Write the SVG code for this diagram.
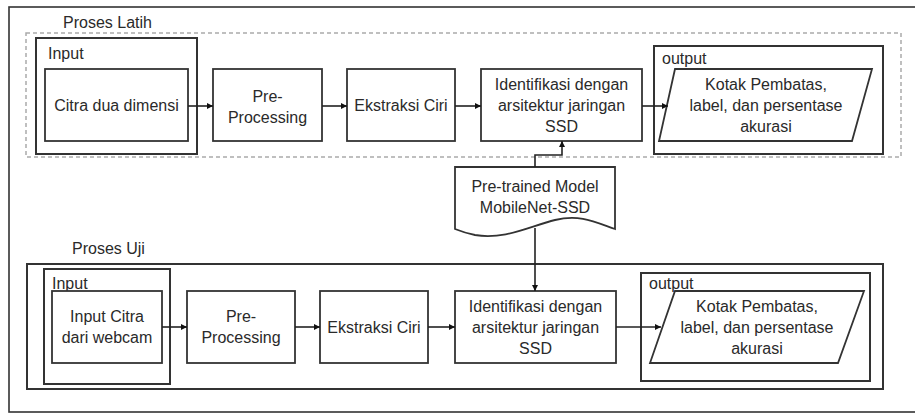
<svg xmlns="http://www.w3.org/2000/svg" width="915" height="413" viewBox="0 0 915 413">
<style>
.frame{fill:#fff;stroke:#333;stroke-width:1.6}
.box{fill:#fff;stroke:#333;stroke-width:1.8}
.grp{fill:none;stroke:#333;stroke-width:2}
.dash{fill:none;stroke:#aaa;stroke-width:1.5;stroke-dasharray:4 3}
.t{font-family:"Liberation Sans",Arial,sans-serif;font-size:16px;fill:#2a2a2a;text-anchor:middle}
.lbl{font-family:"Liberation Sans",Arial,sans-serif;font-size:16px;fill:#2a2a2a}
.c{fill:none;stroke:#222;stroke-width:1.6}
</style>
<defs>
<marker id="ah" viewBox="0 0 8 8" refX="8" refY="4" markerWidth="6" markerHeight="6" markerUnits="userSpaceOnUse" orient="auto"><path d="M0,0 L8,4 L0,8 Z" fill="#111"/></marker>
</defs>
<rect class="frame" x="9" y="7" width="912" height="405"/>

<g id="latih">
<text class="lbl" x="63" y="28">Proses Latih</text>
<rect class="dash" x="26" y="33" width="875" height="124"/>
</g>
<g id="latih-input">
<rect class="grp" x="36" y="38" width="161" height="116"/>
<text class="lbl" x="48" y="59">Input</text>
</g>
<g id="latih-citra">
<rect class="box" x="45" y="69" width="143" height="72"/>
<text class="t" x="116.5" y="111">Citra dua dimensi</text>
</g>
<g id="latih-pre">
<rect class="box" x="213" y="69" width="109" height="72"/>
<text class="t" x="267.5" y="102">Pre-</text>
<text class="t" x="267.5" y="123">Processing</text>
</g>
<g id="latih-ekstraksi">
<rect class="box" x="347" y="69" width="108" height="72"/>
<text class="t" x="401" y="111">Ekstraksi Ciri</text>
</g>
<g id="latih-identifikasi">
<rect class="box" x="481" y="69" width="161" height="72"/>
<text class="t" x="561.5" y="90">Identifikasi dengan</text>
<text class="t" x="561.5" y="111">arsitektur jaringan</text>
<text class="t" x="561.5" y="132">SSD</text>
</g>
<g id="latih-output">
<rect class="grp" x="654" y="46" width="229" height="108"/>
<text class="lbl" x="662" y="64">output</text>
<polygon class="box" points="675,69 872,69 852,141 659,141"/>
<text class="t" x="766" y="90">Kotak Pembatas,</text>
<text class="t" x="766" y="111">label, dan persentase</text>
<text class="t" x="766" y="132">akurasi</text>
</g>

<g id="model">
<path class="box" d="M455,167 L615,167 L615,229 C595,222 580,214 555,220 C530,226 505,240 475,235 C465,233 460,231 455,229 Z"/>
<text class="t" x="535" y="192">Pre-trained Model</text>
<text class="t" x="535" y="213">MobileNet-SSD</text>
</g>

<g id="uji">
<text class="lbl" x="72" y="254">Proses Uji</text>
<rect class="grp" x="27" y="264" width="856" height="125"/>
</g>
<g id="uji-input">
<rect class="grp" x="44" y="269" width="126" height="115"/>
<text class="lbl" x="52" y="289">Input</text>
</g>
<g id="uji-citra">
<rect class="box" x="52" y="291" width="110" height="72"/>
<text class="t" x="107" y="322">Input Citra</text>
<text class="t" x="107" y="343">dari webcam</text>
</g>
<g id="uji-pre">
<rect class="box" x="187" y="291" width="108" height="72"/>
<text class="t" x="241" y="322">Pre-</text>
<text class="t" x="241" y="343">Processing</text>
</g>
<g id="uji-ekstraksi">
<rect class="box" x="320" y="291" width="108" height="72"/>
<text class="t" x="374" y="333">Ekstraksi Ciri</text>
</g>
<g id="uji-identifikasi">
<rect class="box" x="455" y="291" width="161" height="72"/>
<text class="t" x="535.5" y="312">Identifikasi dengan</text>
<text class="t" x="535.5" y="333">arsitektur jaringan</text>
<text class="t" x="535.5" y="354">SSD</text>
</g>
<g id="uji-output">
<rect class="grp" x="641" y="273" width="229" height="108"/>
<text class="lbl" x="649" y="289">output</text>
<polygon class="box" points="675,291 864,291 838,363 650,363"/>
<text class="t" x="757" y="312">Kotak Pembatas,</text>
<text class="t" x="757" y="333">label, dan persentase</text>
<text class="t" x="757" y="354">akurasi</text>
</g>

<g id="connectors">
<line class="c" x1="188" y1="106" x2="213" y2="106" marker-end="url(#ah)"/>
<line class="c" x1="322" y1="106" x2="347" y2="106" marker-end="url(#ah)"/>
<line class="c" x1="455" y1="106" x2="481" y2="106" marker-end="url(#ah)"/>
<line class="c" x1="642" y1="106" x2="668" y2="106" marker-end="url(#ah)"/>
<path class="c" d="M535,167 L535,155 L562,155 L562,141" marker-end="url(#ah)"/>
<line class="c" x1="162" y1="327" x2="187" y2="327" marker-end="url(#ah)"/>
<line class="c" x1="295" y1="327" x2="320" y2="327" marker-end="url(#ah)"/>
<line class="c" x1="428" y1="327" x2="455" y2="327" marker-end="url(#ah)"/>
<line class="c" x1="616" y1="327" x2="661" y2="327" marker-end="url(#ah)"/>
<line class="c" x1="535" y1="228" x2="535" y2="291" marker-end="url(#ah)"/>
</g>
</svg>
